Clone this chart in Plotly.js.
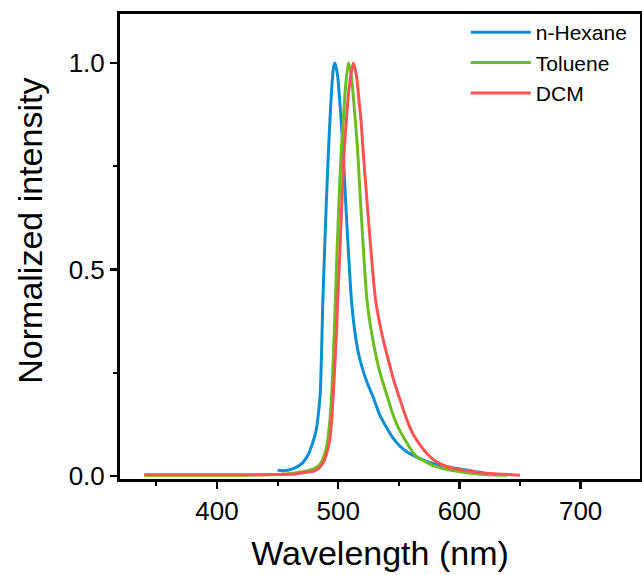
<!DOCTYPE html>
<html>
<head>
<meta charset="utf-8">
<script src="https://cdn.plot.ly/plotly-3.0.1.min.js"></script>
<style>
  html, body { margin: 0; padding: 0; background: #fff; }
  #chart { width: 642px; height: 575px; }
</style>
</head>
<body>
<div id="chart"></div>
<script>
// ---- data ----
const hexaneX = [450, 456, 461, 466, 471, 475, 478, 480.5, 482.4, 484, 485.2, 486.3, 487.3, 488.6, 490, 491.6, 493, 494.7, 496.2, 497.4, 499.5, 501.5, 502.4, 504, 506.5, 508.7, 510.9, 513.9, 516.5, 519.4, 524, 529, 534, 540, 545, 551, 556, 562, 569, 576, 583, 589, 596, 603, 612, 620];
const hexaneY = [0.014, 0.013, 0.016, 0.022, 0.033, 0.05, 0.072, 0.095, 0.12, 0.16, 0.2, 0.3, 0.42, 0.53, 0.645, 0.76, 0.85, 0.94, 0.99, 1.0, 0.97, 0.9, 0.863, 0.79, 0.645, 0.53, 0.427, 0.346, 0.3, 0.266, 0.225, 0.19, 0.15, 0.117, 0.093, 0.072, 0.06, 0.05, 0.04, 0.032, 0.027, 0.023, 0.019, 0.016, 0.011, 0.008];

const tolueneX = [340, 360, 380, 400, 420, 440, 455, 466, 474, 480, 484, 486.5, 489, 491.1, 493, 494.7, 496, 497.7, 499, 500.4, 502.6, 504.3, 506, 508.4, 510.8, 513, 514.1, 516, 518.8, 521.2, 523.7, 527.6, 533.1, 537, 541.3, 545, 549.6, 554, 559.2, 563, 567.4, 573, 578.4, 584, 589.4, 597, 606, 615, 625, 640];
const tolueneY = [0.002, 0.002, 0.002, 0.002, 0.002, 0.003, 0.004, 0.008, 0.012, 0.018, 0.025, 0.035, 0.055, 0.081, 0.13, 0.2, 0.29, 0.427, 0.54, 0.645, 0.79, 0.863, 0.94, 1.0, 0.97, 0.9, 0.863, 0.79, 0.645, 0.53, 0.427, 0.346, 0.266, 0.225, 0.185, 0.15, 0.117, 0.093, 0.068, 0.052, 0.042, 0.033, 0.025, 0.02, 0.016, 0.012, 0.008, 0.005, 0.003, 0.002];

const dcmX = [340, 360, 380, 400, 420, 440, 455, 465, 471.4, 477, 481, 484.5, 487.8, 490.5, 492.7, 494.5, 496, 498.8, 499.6, 501.2, 502.8, 505, 506.8, 509, 512.5, 515, 517.5, 518.8, 520.5, 524.3, 527.5, 530.8, 535.9, 542.7, 546.5, 551, 555, 559.2, 563, 567.4, 573, 578.4, 584, 589.4, 596, 603, 610, 617, 631, 650];
const dcmY = [0.003, 0.003, 0.003, 0.003, 0.003, 0.003, 0.004, 0.005, 0.008, 0.01, 0.013, 0.02, 0.033, 0.055, 0.081, 0.13, 0.2, 0.36, 0.427, 0.53, 0.645, 0.79, 0.863, 0.94, 1.0, 0.97, 0.9, 0.863, 0.79, 0.645, 0.53, 0.427, 0.346, 0.266, 0.225, 0.185, 0.15, 0.117, 0.095, 0.076, 0.055, 0.04, 0.03, 0.023, 0.018, 0.014, 0.011, 0.008, 0.005, 0.002];

const seriesNames = ['n-Hexane', 'Toluene', 'DCM'];
const seriesColors = ['#0A8FD5', '#6BBE1F', '#FF5252'];
const xTickVals = [400, 500, 600, 700];
const yTickVals = [0.0, 0.5, 1.0];
const yTickText = ['0.0', '0.5', '1.0'];
const xTitle = 'Wavelength (nm)';
const yTitle = 'Normalized intensity';

const font = 'Liberation Sans, Arial, sans-serif';
const xs = [hexaneX, tolueneX, dcmX];
const ys = [hexaneY, tolueneY, dcmY];

const traces = seriesNames.map((name, i) => ({
  type: 'scatter',
  mode: 'lines',
  name: name,
  x: xs[i],
  y: ys[i],
  legendgroup: 'g' + i,
  line: { color: seriesColors[i], width: 3, shape: 'spline', smoothing: 0.6 }
}));

const layout = {
  width: 642,
  height: 575,
  margin: { l: 120, r: 2, t: 14, b: 95.5, autoexpand: false },
  paper_bgcolor: '#ffffff',
  plot_bgcolor: '#ffffff',
  font: { family: font, color: '#000' },
  showlegend: true,
  legend: {
    x: 0.665, xanchor: 'left',
    y: 1.004, yanchor: 'top',
    font: { family: font, size: 21, color: '#000' },
    bgcolor: 'rgba(0,0,0,0)',
    itemwidth: 60,
    tracegroupgap: 0,
    traceorder: 'normal'
  },
  xaxis: {
    range: [320, 749],
    tickvals: xTickVals,
    ticks: 'outside', ticklen: 7, tickwidth: 2.5, tickcolor: '#000',
    minor: { dtick: 50, tick0: 350, ticks: 'outside', ticklen: 4, tickwidth: 2, tickcolor: '#000' },
    showline: true, linewidth: 3, linecolor: '#000', mirror: true,
    showgrid: false, zeroline: false,
    tickfont: { family: font, size: 26, color: '#000' },
    title: { text: xTitle, font: { family: font, size: 34, color: '#000' }, standoff: 16 }
  },
  yaxis: {
    range: [-0.0073, 1.1185],
    tickvals: yTickVals,
    ticktext: yTickText,
    ticks: 'outside', ticklen: 7, tickwidth: 2.5, tickcolor: '#000',
    minor: { tickvals: [0.25, 0.75], ticks: 'outside', ticklen: 4, tickwidth: 2, tickcolor: '#000' },
    showline: true, linewidth: 3, linecolor: '#000', mirror: true,
    showgrid: false, zeroline: false,
    tickfont: { family: font, size: 26, color: '#000' }
  },
  annotations: [{
    text: yTitle,
    xref: 'paper', yref: 'paper',
    x: -0.173, y: 0.534,
    xanchor: 'center', yanchor: 'middle',
    textangle: -90,
    showarrow: false,
    font: { family: font, size: 34, color: '#000' }
  }]
};

Plotly.newPlot('chart', traces, layout, { displayModeBar: false, staticPlot: true });
</script>
</body>
</html>
